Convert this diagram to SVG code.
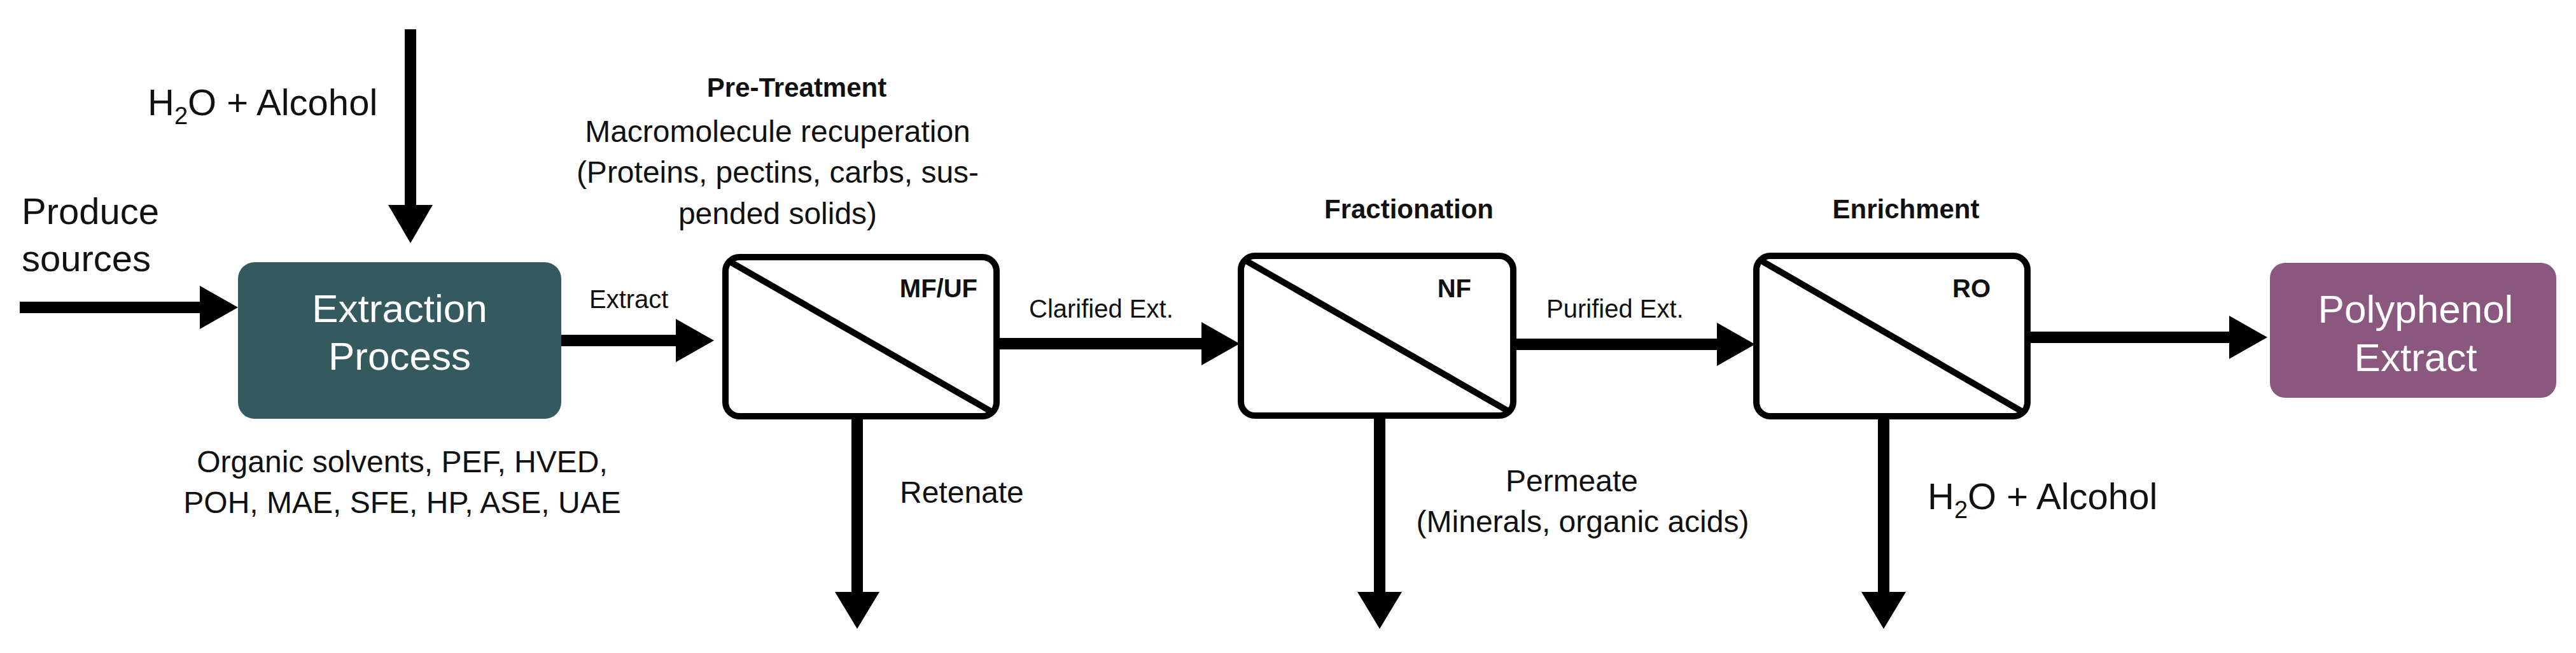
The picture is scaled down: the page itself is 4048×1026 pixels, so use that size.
<svg xmlns="http://www.w3.org/2000/svg" width="4048" height="1026" viewBox="0 0 4048 1026">
<style>
text{font-family:"Liberation Sans",Arial,sans-serif;fill:#111}
.b{font-weight:bold}
.w{fill:#fff}
.mem{fill:#fff;stroke:#000;stroke-width:10}
.sh{stroke:#000;stroke-width:18;fill:none}
.hd{fill:#000}
</style>
<rect width="4048" height="1026" fill="#fff"/>
<g id="connectors">
<path class="sh" d="M645 46V325"/><path class="hd" d="M610 322H680L645 382Z"/>
<path class="sh" d="M31 483H316"/><path class="hd" d="M314 449V517L374 483Z"/>
<path class="sh" d="M882 535H1064"/><path class="hd" d="M1062 501V569L1122 535Z"/>
<path class="sh" d="M1566 540H1890"/><path class="hd" d="M1888 506V574L1948 540Z"/>
<path class="sh" d="M2378 541H2700"/><path class="hd" d="M2698 507V575L2758 541Z"/>
<path class="sh" d="M3186 530H3505"/><path class="hd" d="M3503 496V564L3563 530Z"/>
<path class="sh" d="M1347 655V932"/><path class="hd" d="M1312 930H1382L1347 988Z"/>
<path class="sh" d="M2168 655V932"/><path class="hd" d="M2133 930H2203L2168 988Z"/>
<path class="sh" d="M2960 655V932"/><path class="hd" d="M2925 930H2995L2960 988Z"/>
</g>
<g id="labels">
<text x="232" y="181" font-size="58">H<tspan font-size="38" dy="14">2</tspan><tspan dy="-14">O + Alcohol</tspan></text>
<text x="34" y="352" font-size="58">Produce</text>
<text x="34" y="426" font-size="58">sources</text>
<text x="926" y="484" font-size="40">Extract</text>
<text x="632" y="742" font-size="48" text-anchor="middle">Organic solvents, PEF, HVED,</text>
<text x="632" y="806" font-size="48" text-anchor="middle">POH,  MAE, SFE, HP, ASE, UAE</text>
<text x="1252" y="152" font-size="42" class="b" text-anchor="middle">Pre-Treatment</text>
<text x="1222" y="223" font-size="48" text-anchor="middle">Macromolecule recuperation</text>
<text x="1222" y="287" font-size="48" text-anchor="middle">(Proteins, pectins, carbs, sus-</text>
<text x="1222" y="352" font-size="48" text-anchor="middle">pended solids)</text>
<text x="1414" y="790" font-size="48">Retenate</text>
<text x="1617" y="499" font-size="40">Clarified Ext.</text>
<text x="2214" y="343" font-size="42" class="b" text-anchor="middle">Fractionation</text>
<text x="2470" y="772" font-size="48" text-anchor="middle">Permeate</text>
<text x="2487" y="836" font-size="48" text-anchor="middle">(Minerals, organic acids)</text>
<text x="2430" y="499" font-size="40">Purified Ext.</text>
<text x="2995" y="343" font-size="42" class="b" text-anchor="middle">Enrichment</text>
<text x="3029" y="800" font-size="58">H<tspan font-size="38" dy="14">2</tspan><tspan dy="-14">O + Alcohol</tspan></text>
</g>
<g id="extraction">
<rect x="374" y="412" width="508" height="246" rx="26" fill="#345a60"/>
<text class="w" x="628" y="506" font-size="62" text-anchor="middle">Extraction</text>
<text class="w" x="628" y="581" font-size="62" text-anchor="middle">Process</text>
</g>
<g id="mfuf">
<rect class="mem" x="1140" y="404" width="426" height="250" rx="22"/>
<path d="M1145 410L1560 648" stroke="#000" stroke-width="10"/>
<text x="1536" y="467" font-size="40" class="b" text-anchor="end">MF/UF</text>
</g>
<g id="nf">
<rect class="mem" x="1950" y="402" width="428" height="251" rx="22"/>
<path d="M1955 408L2372 647" stroke="#000" stroke-width="10"/>
<text x="2312" y="467" font-size="40" class="b" text-anchor="end">NF</text>
</g>
<g id="ro">
<rect class="mem" x="2760" y="402" width="426" height="252" rx="22"/>
<path d="M2765 408L3180 648" stroke="#000" stroke-width="10"/>
<text x="3128" y="467" font-size="40" class="b" text-anchor="end">RO</text>
</g>
<g id="polyphenol">
<rect x="3567" y="413" width="450" height="212" rx="24" fill="#8a577e"/>
<text class="w" x="3796" y="507" font-size="62" text-anchor="middle">Polyphenol</text>
<text class="w" x="3796" y="583" font-size="62" text-anchor="middle">Extract</text>
</g>
</svg>
